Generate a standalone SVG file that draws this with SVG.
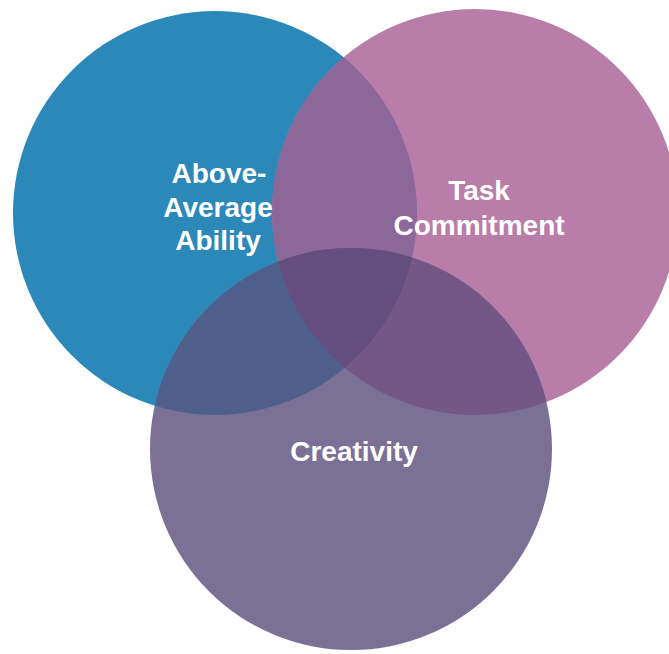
<svg xmlns="http://www.w3.org/2000/svg" width="669" height="654" viewBox="0 0 669 654">
<style>
.lbl{font-family:"Liberation Sans",Arial,sans-serif;font-weight:bold;font-size:28px;fill:#ffffff;text-anchor:middle}
</style>
<defs>
<clipPath id="cA"><circle cx="215" cy="213" r="202"/></clipPath>
<clipPath id="cB"><circle cx="475" cy="212" r="203"/></clipPath>
<clipPath id="cC"><circle cx="351" cy="449" r="201"/></clipPath>
</defs>
<rect width="669" height="654" fill="#ffffff"/>
<g id="circles">
<g id="ability"><circle cx="215" cy="213" r="202" fill="#2b88b8"/></g>
<g id="task"><circle cx="475" cy="212" r="203" fill="#b87da8"/></g>
<g id="creativity"><circle cx="351" cy="449" r="201" fill="#7b7197"/></g>
<g id="overlaps">
<g clip-path="url(#cA)"><circle cx="475" cy="212" r="203" fill="#8c679a"/></g>
<g clip-path="url(#cA)"><circle cx="351" cy="449" r="201" fill="#4e5f8b"/></g>
<g clip-path="url(#cB)"><circle cx="351" cy="449" r="201" fill="#735887"/></g>
<g clip-path="url(#cA)"><g clip-path="url(#cB)"><circle cx="351" cy="449" r="201" fill="#644e80"/></g></g>
</g>
</g>
<g id="labels">
<text class="lbl" x="219" y="183">Above-</text>
<text class="lbl" x="218" y="217">Average</text>
<text class="lbl" x="218" y="250">Ability</text>
<text class="lbl" x="479" y="200">Task</text>
<text class="lbl" x="479" y="235">Commitment</text>
<text class="lbl" x="354" y="461">Creativity</text>
</g>
</svg>
